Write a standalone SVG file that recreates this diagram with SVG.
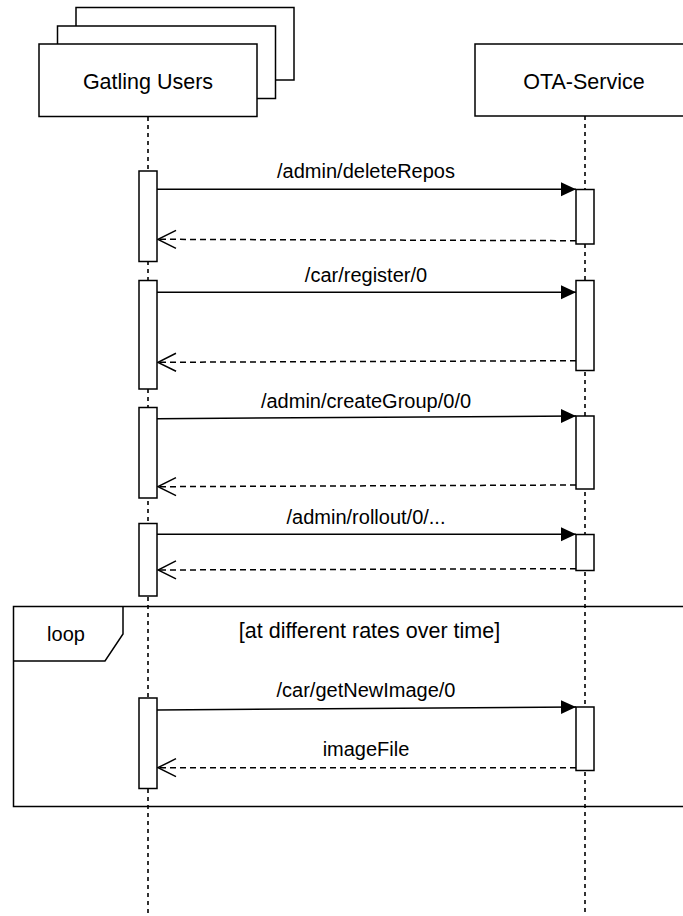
<svg xmlns="http://www.w3.org/2000/svg" width="683" height="916" viewBox="0 0 683 916">
  <style>
    .box { fill: #ffffff; stroke: #000000; stroke-width: 1.5; }
    .life { fill: none; stroke: #000000; stroke-width: 1.6; stroke-dasharray: 4 4; }
    .call { fill: none; stroke: #000000; stroke-width: 1.5; }
    .ret { fill: none; stroke: #000000; stroke-width: 1.5; stroke-dasharray: 6 4; }
    .head { font-family: "Liberation Sans", Arial, sans-serif; font-size: 21.5px; fill: #000000; text-anchor: middle; }
    .lbl { font-family: "Liberation Sans", Arial, sans-serif; font-size: 20px; fill: #000000; text-anchor: middle; }
    .guard { font-family: "Liberation Sans", Arial, sans-serif; font-size: 21.5px; fill: #000000; text-anchor: middle; }
  </style>
  <defs>
    <marker id="solid" markerUnits="userSpaceOnUse" markerWidth="16" markerHeight="16" viewBox="0 0 16 16" refX="15" refY="8" orient="auto">
      <path d="M0,1 L15,8 L0,15 Z" fill="#000000"/>
    </marker>
    <marker id="open" markerUnits="userSpaceOnUse" markerWidth="20" markerHeight="22" viewBox="0 0 20 22" refX="19" refY="11" orient="auto">
      <path d="M1,2 L19,11 L1,20" fill="none" stroke="#000000" stroke-width="1.5"/>
    </marker>
  </defs>

  <!-- lifelines -->
  <g id="lifelines">
    <line class="life" x1="148" y1="117" x2="148" y2="916"/>
    <line class="life" x1="585" y1="116" x2="585" y2="916"/>
  </g>

  <!-- participant: stacked user boxes -->
  <g id="gatling-users">
    <rect class="box" x="76" y="7.5" width="218" height="72.5"/>
    <rect class="box" x="57.5" y="26" width="218" height="72.5"/>
    <rect class="box" x="39" y="44" width="218" height="72.5"/>
    <text class="head" x="148" y="89">Gatling Users</text>
  </g>

  <!-- participant: service -->
  <g id="ota-service">
    <rect class="box" x="475" y="44" width="220" height="72"/>
    <text class="head" x="584" y="89">OTA-Service</text>
  </g>

  <!-- loop combined fragment -->
  <g id="loop">
    <rect x="13.5" y="606.5" width="690" height="200" fill="none" stroke="#000000" stroke-width="1.5"/>
    <path d="M13.5,661 L105,661 L123,634 L123,606.5" fill="none" stroke="#000000" stroke-width="1.5"/>
    <text class="lbl" x="66" y="641">loop</text>
    <text class="guard" x="369.5" y="638">[at different rates over time]</text>
  </g>

  <!-- activation bars -->
  <g id="activations">
    <rect class="box" x="139" y="171" width="18" height="90.5"/>
    <rect class="box" x="576" y="189.5" width="18" height="54.5"/>
    <rect class="box" x="139" y="280.5" width="18" height="108.5"/>
    <rect class="box" x="576" y="280.5" width="18" height="90"/>
    <rect class="box" x="139" y="407.5" width="18" height="90.5"/>
    <rect class="box" x="576" y="416" width="18" height="73"/>
    <rect class="box" x="139" y="523.5" width="18" height="72.5"/>
    <rect class="box" x="576" y="534.5" width="18" height="36"/>
    <rect class="box" x="139" y="698" width="18" height="90.5"/>
    <rect class="box" x="576" y="707" width="18" height="63.5"/>
  </g>

  <!-- messages -->
  <g id="connectors">
    <line class="call" x1="157" y1="189.3" x2="576" y2="189.3" marker-end="url(#solid)"/>
    <text class="lbl" x="366" y="178">/admin/deleteRepos</text>
    <line class="ret" x1="576" y1="240.7" x2="158" y2="239.3" marker-end="url(#open)"/>

    <line class="call" x1="157" y1="292.3" x2="576" y2="292.3" marker-end="url(#solid)"/>
    <text class="lbl" x="366" y="282">/car/register/0</text>
    <line class="ret" x1="576" y1="360.7" x2="158" y2="362.3" marker-end="url(#open)"/>

    <line class="call" x1="157" y1="418.7" x2="576" y2="416" marker-end="url(#solid)"/>
    <text class="lbl" x="366" y="408">/admin/createGroup/0/0</text>
    <line class="ret" x1="576" y1="485" x2="158" y2="486.7" marker-end="url(#open)"/>

    <line class="call" x1="157" y1="534.3" x2="576" y2="534.3" marker-end="url(#solid)"/>
    <text class="lbl" x="366" y="524">/admin/rollout/0/...</text>
    <line class="ret" x1="576" y1="568.7" x2="158" y2="570" marker-end="url(#open)"/>

    <line class="call" x1="157" y1="710" x2="576" y2="707" marker-end="url(#solid)"/>
    <text class="lbl" x="366" y="697">/car/getNewImage/0</text>
    <line class="ret" x1="576" y1="767.7" x2="158" y2="767.7" marker-end="url(#open)"/>
    <text class="lbl" x="366" y="756">imageFile</text>
  </g>
</svg>
